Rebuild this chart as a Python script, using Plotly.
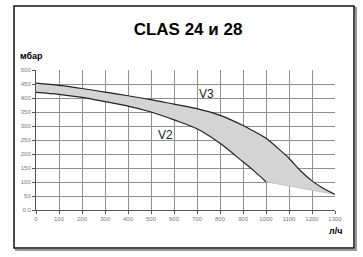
import plotly.graph_objects as go

# Data
v3_x = [0, 100, 200, 300, 400, 500, 600, 700, 800, 900, 950, 1000, 1050, 1100, 1150, 1200, 1250, 1300]
v3_y = [453, 445, 434, 421, 408, 394, 378, 362, 338, 302, 280, 256, 222, 185, 140, 104, 77, 56]
v2_x = [0, 100, 200, 300, 400, 500, 600, 700, 800, 900, 950, 1000]
v2_y = [420, 413, 402, 387, 371, 350, 322, 290, 238, 172, 138, 101]
tail_x = [1000, 1100, 1200, 1300]
tail_y = [101, 86, 71, 56]
x_ticks = list(range(0, 1301, 100))
y_ticks = list(range(0, 501, 50))
y_tick_text = ["0.0"] + [str(v) for v in y_ticks[1:]]

L, R, T, B = 36, 28, 70, 47
W, H = 363, 257
pw, ph = W - L - R, H - T - B
def px(x):
    return (x - L) / pw
def py(y):
    return (H - B - y) / ph

fig = go.Figure()
poly_x = v3_x + tail_x[::-1] + v2_x[::-1]
poly_y = v3_y + tail_y[::-1] + v2_y[::-1]
fig.add_trace(go.Scatter(x=poly_x, y=poly_y, fill="toself", fillcolor="#d4d4d4",
                         line=dict(width=0, shape="spline", smoothing=0.8), mode="lines", hoverinfo="skip"))
fig.add_trace(go.Scatter(x=tail_x, y=tail_y, mode="lines", line=dict(color="#c4c4c4", width=1)))
fig.add_trace(go.Scatter(x=v3_x, y=v3_y, mode="lines",
                         line=dict(color="#222", width=1.2, shape="spline", smoothing=0.8)))
fig.add_trace(go.Scatter(x=v2_x, y=v2_y, mode="lines",
                         line=dict(color="#222", width=1.2, shape="spline", smoothing=0.8)))

fig.add_annotation(x=740, y=414, text="V3", showarrow=False, font=dict(size=12, color="#222", family="Arial"))
fig.add_annotation(x=565, y=268, text="V2", showarrow=False, font=dict(size=12, color="#222", family="Arial"))

fig.add_annotation(xref="paper", yref="paper", x=px(18), y=py(56), xanchor="left", yanchor="middle",
                   text="<b>мбар</b>", showarrow=False, font=dict(size=9, color="#000", family="Arial"))
fig.add_annotation(xref="paper", yref="paper", x=px(344), y=py(231), xanchor="right", yanchor="middle",
                   text="<b>л/ч</b>", showarrow=False, font=dict(size=9, color="#000", family="Arial"))

fig.add_shape(type="rect", xref="paper", yref="paper", x0=px(16), x1=px(356), y0=py(250), y1=py(8),
              line=dict(color="#999", width=2), layer="below")
fig.add_shape(type="rect", xref="paper", yref="paper", x0=px(14), x1=px(354), y0=py(248), y1=py(6),
              line=dict(color="#111", width=1.5), fillcolor="white", layer="below")

fig.update_xaxes(range=[0, 1300], tickvals=x_ticks, showgrid=True, gridcolor="#909090", gridwidth=1,
                 showline=True, linecolor="#555", ticks="outside", ticklen=3, tickcolor="#555",
                 tickfont=dict(size=6, color="#777", family="Arial"), zeroline=False)
fig.update_yaxes(range=[0, 500], tickvals=y_ticks, ticktext=y_tick_text, showgrid=True, gridcolor="#909090",
                 gridwidth=1, showline=True, linecolor="#555", ticks="outside", ticklen=3, tickcolor="#555",
                 tickfont=dict(size=6, color="#777", family="Arial"), zeroline=False)
fig.update_layout(width=W, height=H, margin=dict(l=L, r=R, t=T, b=B, autoexpand=False), showlegend=False,
                  title=dict(text="<b>CLAS 24 и 28</b>", xref="container", yref="container",
                             x=188 / W, y=1 - 29 / H, xanchor="center", yanchor="middle",
                             font=dict(size=17, color="#000", family="Arial")),
                  plot_bgcolor="rgba(0,0,0,0)", paper_bgcolor="white")
fig.write_html("out.html")
